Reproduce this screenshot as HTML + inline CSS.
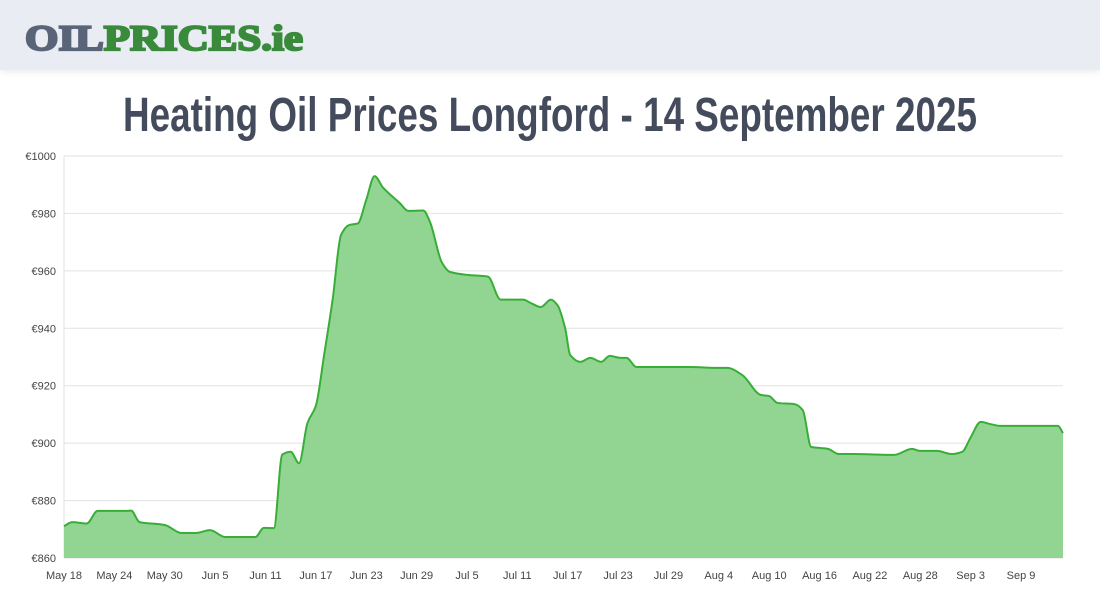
<!DOCTYPE html>
<html><head><meta charset="utf-8"><style>
html,body{margin:0;padding:0;background:#fff;width:1100px;height:600px;overflow:hidden;font-family:"Liberation Sans",sans-serif}
#hdr{position:absolute;left:0;top:0;width:1100px;height:70px;background:#e9ecf3;box-shadow:0 2px 6px rgba(0,0,0,0.08)}
svg{position:absolute;left:0;top:0}
</style></head><body>
<div id="hdr"></div>
<svg width="1100" height="600" id="main">
  <text x="25" y="50" font-family="Liberation Serif, serif" font-weight="bold" font-size="36" stroke-width="2.2" textLength="278" lengthAdjust="spacingAndGlyphs"><tspan fill="#5a6478" stroke="#5a6478">OIL</tspan><tspan fill="#3a8a3c" stroke="#3a8a3c">PRICES.ie</tspan></text>
  <text x="123" y="131" font-family="Liberation Sans Narrow, Liberation Sans, sans-serif" font-weight="bold" font-size="48" fill="#434b5c" textLength="854" lengthAdjust="spacingAndGlyphs">Heating Oil Prices Longford - 14 September 2025</text>
  <g id="grid"></g><g id="area"></g><g id="axes"></g>
</svg>
<script>
const days=[0,1,2,2.7,4,7.4,8,9,12,14,15.7,17.4,19.2,22.8,23.8,25,26,27,28,29,30,31,32,33,34,35,36,37,38,40,41,42.8,43.6,45,46,48,50.5,52,54.7,55.6,56.8,58,58.8,59.7,60.3,61.5,62.7,64,65,66.3,67,68.2,70,74.6,78,79,80.8,83,84,85,87,88,89,91,92.3,94,98.9,101,102,104,105.7,107,108,109.2,110.4,111.6,117.6,118.4,119];
const prices=[871.1,872.5,872.2,872,876.4,876.4,876.5,872.5,871.5,868.7,868.7,869.7,867.3,867.3,870.5,870.4,896,897,893,907,913,931,950,972.5,976,976.5,984.7,993,989,983.6,980.9,981,977,963,959.6,958.6,958,950,950,948.8,947.4,950,948,940,930.7,928.3,929.7,928.3,930.4,929.7,929.7,926.5,926.5,926.5,926.2,926.2,923.7,916.8,916.4,914,913.6,911.5,898.7,898,896.2,896.2,895.9,898,897.3,897.3,896.2,897,902,907.4,906.6,906,906,906,903.5];
const yTicks=[860,880,900,920,940,960,980,1000];
const xTickLabels=["May 18","May 24","May 30","Jun 5","Jun 11","Jun 17","Jun 23","Jun 29","Jul 5","Jul 11","Jul 17","Jul 23","Jul 29","Aug 4","Aug 10","Aug 16","Aug 22","Aug 28","Sep 3","Sep 9"];
const xTickDays=[0,6,12,18,24,30,36,42,48,54,60,66,72,78,84,90,96,102,108,114];
const X0=64,X1=1063,Y0=558,Y1=156,DMAX=119;
const xs=d=>X0+(X1-X0)*d/DMAX;
const ys=v=>Y0-(Y0-Y1)*(v-860)/140;
const NS="http://www.w3.org/2000/svg";
function mk(t,a,p){const e=document.createElementNS(NS,t);for(const k in a)e.setAttribute(k,a[k]);p.appendChild(e);return e;}
const grid=document.getElementById('grid'),axes=document.getElementById('axes'),area=document.getElementById('area');
yTicks.forEach(v=>{
  const l=mk('line',{x1:X0,x2:X1,y1:ys(v),y2:ys(v),stroke:'#e2e2e2','stroke-width':1},grid);
  
  
  const t=mk('text',{x:56,y:ys(v)+4,'text-anchor':'end','font-size':11,fill:'#444'},axes);
  t.textContent='€'+v;
  
  
});
const al=mk('line',{x1:X0,x2:X0,y1:Y1,y2:Y0,stroke:'#e2e2e2'},grid);


xTickDays.forEach((d,i)=>{
  const t=mk('text',{x:xs(d),y:579,'text-anchor':'middle','font-size':11,fill:'#444'},axes);
  t.textContent=xTickLabels[i];
  
  
});
const P=days.map((d,i)=>[xs(d),ys(prices[i])]);
const n=P.length,m=[],dl=[];
for(let i=0;i<n-1;i++)dl.push((P[i+1][1]-P[i][1])/(P[i+1][0]-P[i][0]));
m[0]=dl[0];m[n-1]=dl[n-2];
for(let i=1;i<n-1;i++){m[i]=(dl[i-1]*dl[i]<=0)?0:2/(1/dl[i-1]+1/dl[i]);}
let path='M'+P[0][0]+','+P[0][1];
for(let i=0;i<n-1;i++){const h=(P[i+1][0]-P[i][0])/3;
  path+=` C${P[i][0]+h},${P[i][1]+m[i]*h} ${P[i+1][0]-h},${P[i+1][1]-m[i+1]*h} ${P[i+1][0]},${P[i+1][1]}`;}
const fill=mk('path',{d:path+` L${P[n-1][0]},${Y0} L${P[0][0]},${Y0} Z`,fill:'#92d592'},area);


const line=mk('path',{d:path,fill:'none',stroke:'#38ad38','stroke-width':2},area);


</script>
</body></html>
